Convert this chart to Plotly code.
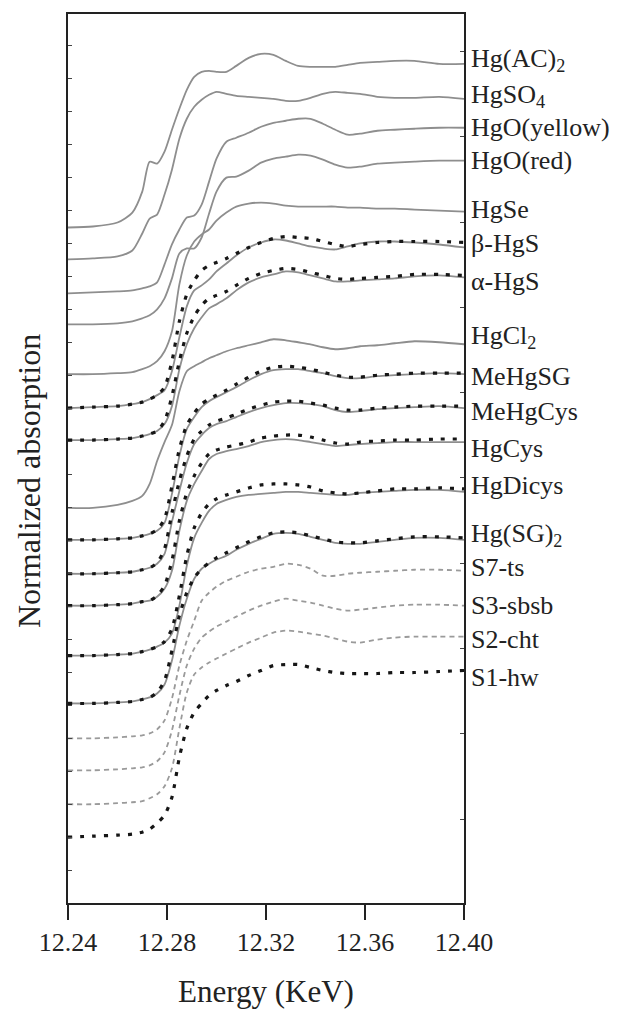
import plotly.graph_objects as go

# Energy grid (keV)
energy = [12.240, 12.250, 12.260, 12.266, 12.270, 12.273, 12.276, 12.279, 12.282, 12.285,
          12.288, 12.291, 12.294, 12.297, 12.300, 12.304, 12.308, 12.313, 12.318, 12.323,
          12.328, 12.333, 12.338, 12.343, 12.348, 12.353, 12.358, 12.365, 12.372, 12.380,
          12.390, 12.400]

# Offset normalized absorption (stacked spectra)
hg_ac2 = [6.77, 6.78, 6.82, 6.92, 7.13, 7.43, 7.41, 7.53, 7.75, 7.96, 8.15, 8.28, 8.33, 8.34, 8.33, 8.33, 8.39, 8.47, 8.51, 8.50, 8.44, 8.39, 8.38, 8.38, 8.38, 8.40, 8.42, 8.43, 8.44, 8.44, 8.41, 8.41]
hgso4 = [6.45, 6.46, 6.48, 6.54, 6.71, 6.86, 6.90, 7.10, 7.35, 7.66, 7.86, 7.98, 8.05, 8.10, 8.13, 8.11, 8.09, 8.08, 8.07, 8.06, 8.04, 8.04, 8.07, 8.11, 8.13, 8.12, 8.11, 8.08, 8.07, 8.07, 8.08, 8.06]
hgo_yellow = [6.11, 6.12, 6.13, 6.14, 6.16, 6.18, 6.22, 6.40, 6.60, 6.75, 6.87, 6.89, 7.00, 7.23, 7.46, 7.63, 7.67, 7.72, 7.78, 7.82, 7.84, 7.86, 7.86, 7.81, 7.75, 7.70, 7.71, 7.74, 7.75, 7.76, 7.77, 7.77]
hgo_red = [5.80, 5.80, 5.81, 5.83, 5.86, 5.89, 5.95, 6.06, 6.26, 6.51, 6.56, 6.56, 6.67, 6.91, 7.13, 7.27, 7.28, 7.34, 7.42, 7.46, 7.48, 7.50, 7.49, 7.45, 7.40, 7.37, 7.38, 7.41, 7.42, 7.43, 7.44, 7.44]
hgse = [5.30, 5.30, 5.31, 5.32, 5.35, 5.38, 5.43, 5.53, 5.73, 6.20, 6.49, 6.63, 6.70, 6.75, 6.84, 6.92, 6.98, 7.01, 7.02, 7.01, 6.99, 6.98, 6.98, 6.98, 6.98, 6.97, 6.97, 6.96, 6.96, 6.95, 6.94, 6.93]
beta_hgs = [4.96, 4.97, 4.98, 5.00, 5.02, 5.05, 5.09, 5.14, 5.33, 5.67, 5.98, 6.14, 6.19, 6.25, 6.33, 6.41, 6.49, 6.57, 6.62, 6.65, 6.64, 6.61, 6.58, 6.56, 6.55, 6.58, 6.61, 6.63, 6.63, 6.62, 6.60, 6.57]
alpha_hgs = [4.64, 4.64, 4.65, 4.66, 4.68, 4.70, 4.73, 4.80, 4.98, 5.35, 5.60, 5.76, 5.87, 5.96, 6.00, 6.06, 6.14, 6.22, 6.27, 6.30, 6.33, 6.32, 6.29, 6.26, 6.23, 6.23, 6.24, 6.25, 6.26, 6.28, 6.29, 6.27]
hgcl2 = [3.96, 3.96, 3.99, 4.03, 4.08, 4.20, 4.43, 4.62, 4.79, 5.13, 5.33, 5.38, 5.42, 5.46, 5.49, 5.53, 5.56, 5.59, 5.62, 5.65, 5.64, 5.62, 5.60, 5.57, 5.55, 5.56, 5.58, 5.59, 5.61, 5.63, 5.62, 5.60]
mehgsg = [3.64, 3.64, 3.65, 3.66, 3.68, 3.70, 3.73, 3.81, 4.10, 4.48, 4.75, 4.87, 4.97, 5.03, 5.07, 5.12, 5.17, 5.24, 5.30, 5.34, 5.35, 5.35, 5.33, 5.31, 5.28, 5.26, 5.26, 5.28, 5.29, 5.30, 5.31, 5.30]
mehgcys = [3.30, 3.30, 3.31, 3.32, 3.34, 3.36, 3.40, 3.50, 3.82, 4.13, 4.41, 4.60, 4.69, 4.76, 4.80, 4.83, 4.87, 4.92, 4.96, 4.99, 5.01, 5.01, 5.00, 4.98, 4.94, 4.92, 4.93, 4.95, 4.96, 4.97, 4.98, 4.96]
hgcys = [2.98, 2.98, 2.99, 3.00, 3.02, 3.03, 3.07, 3.15, 3.33, 3.73, 4.03, 4.20, 4.33, 4.45, 4.50, 4.53, 4.55, 4.58, 4.62, 4.64, 4.65, 4.64, 4.62, 4.60, 4.58, 4.59, 4.60, 4.61, 4.62, 4.62, 4.62, 4.62]
hgdicys = [2.48, 2.48, 2.49, 2.50, 2.52, 2.54, 2.57, 2.61, 2.70, 2.98, 3.38, 3.66, 3.81, 3.93, 4.00, 4.04, 4.07, 4.09, 4.10, 4.11, 4.12, 4.12, 4.11, 4.10, 4.09, 4.09, 4.11, 4.12, 4.13, 4.14, 4.14, 4.12]
hg_sg2 = [2.00, 2.00, 2.01, 2.02, 2.04, 2.06, 2.10, 2.19, 2.43, 2.78, 3.05, 3.25, 3.35, 3.40, 3.44, 3.48, 3.54, 3.60, 3.65, 3.70, 3.71, 3.70, 3.67, 3.64, 3.61, 3.60, 3.60, 3.62, 3.64, 3.66, 3.66, 3.64]
s7_ts = [1.65, 1.65, 1.66, 1.67, 1.68, 1.70, 1.74, 1.83, 2.05, 2.38, 2.63, 2.83, 3.03, 3.11, 3.17, 3.23, 3.27, 3.32, 3.35, 3.37, 3.40, 3.39, 3.35, 3.28, 3.28, 3.30, 3.31, 3.32, 3.33, 3.34, 3.34, 3.33]
s3_sbsb = [1.33, 1.33, 1.34, 1.35, 1.36, 1.38, 1.42, 1.51, 1.73, 2.08, 2.38, 2.55, 2.66, 2.72, 2.77, 2.82, 2.87, 2.93, 2.98, 3.02, 3.05, 3.03, 3.01, 2.98, 2.95, 2.93, 2.94, 2.96, 2.98, 2.99, 2.99, 2.98]
s2_cht = [0.99, 0.99, 1.00, 1.01, 1.02, 1.05, 1.09, 1.17, 1.35, 1.75, 2.11, 2.29, 2.36, 2.41, 2.45, 2.50, 2.55, 2.61, 2.66, 2.71, 2.73, 2.72, 2.70, 2.68, 2.65, 2.62, 2.61, 2.64, 2.66, 2.67, 2.67, 2.67]
s1_hw = [0.66, 0.67, 0.68, 0.69, 0.71, 0.74, 0.80, 0.88, 1.06, 1.46, 1.75, 1.91, 2.00, 2.08, 2.13, 2.18, 2.22, 2.28, 2.33, 2.38, 2.39, 2.39, 2.36, 2.33, 2.31, 2.30, 2.30, 2.30, 2.31, 2.31, 2.32, 2.33]

# Linear-combination fits (black dotted overlays)
beta_hgs_fit = [4.96, 4.97, 4.98, 5.00, 5.02, 5.05, 5.09, 5.17, 5.43, 5.83, 6.10, 6.24, 6.34, 6.39, 6.42, 6.46, 6.51, 6.57, 6.62, 6.66, 6.68, 6.67, 6.66, 6.63, 6.60, 6.58, 6.60, 6.62, 6.63, 6.63, 6.63, 6.62]
alpha_hgs_fit = [4.64, 4.64, 4.65, 4.66, 4.68, 4.70, 4.73, 4.83, 5.08, 5.43, 5.71, 5.88, 5.99, 6.06, 6.09, 6.13, 6.19, 6.26, 6.31, 6.34, 6.36, 6.35, 6.32, 6.29, 6.26, 6.25, 6.26, 6.27, 6.28, 6.30, 6.30, 6.29]
mehgsg_fit = [3.64, 3.64, 3.65, 3.66, 3.68, 3.70, 3.74, 3.85, 4.18, 4.55, 4.79, 4.91, 5.00, 5.05, 5.09, 5.14, 5.20, 5.27, 5.33, 5.37, 5.38, 5.37, 5.35, 5.32, 5.29, 5.27, 5.27, 5.29, 5.30, 5.31, 5.31, 5.31]
mehgcys_fit = [3.30, 3.30, 3.31, 3.32, 3.34, 3.36, 3.41, 3.55, 3.91, 4.23, 4.48, 4.65, 4.73, 4.79, 4.83, 4.86, 4.90, 4.95, 4.99, 5.02, 5.03, 5.03, 5.01, 4.99, 4.96, 4.94, 4.94, 4.96, 4.97, 4.98, 4.98, 4.98]
hgcys_fit = [2.98, 2.98, 2.99, 3.00, 3.02, 3.03, 3.08, 3.18, 3.43, 3.83, 4.11, 4.28, 4.41, 4.50, 4.54, 4.57, 4.59, 4.62, 4.66, 4.68, 4.69, 4.69, 4.67, 4.64, 4.61, 4.60, 4.62, 4.63, 4.64, 4.64, 4.65, 4.65]
hgdicys_fit = [2.48, 2.48, 2.49, 2.50, 2.52, 2.54, 2.57, 2.62, 2.75, 3.08, 3.48, 3.76, 3.91, 4.00, 4.05, 4.09, 4.12, 4.16, 4.19, 4.20, 4.20, 4.19, 4.17, 4.13, 4.11, 4.10, 4.11, 4.13, 4.15, 4.15, 4.16, 4.15]
hg_sg2_fit = [2.00, 2.00, 2.01, 2.02, 2.04, 2.06, 2.11, 2.23, 2.53, 2.88, 3.11, 3.26, 3.35, 3.41, 3.46, 3.51, 3.56, 3.62, 3.67, 3.71, 3.72, 3.71, 3.68, 3.65, 3.62, 3.61, 3.61, 3.63, 3.65, 3.67, 3.67, 3.66]

# Right-hand labels and their vertical positions
label_text = ["Hg(AC)<sub>2</sub>", "HgSO<sub>4</sub>", "HgO(yellow)", "HgO(red)", "HgSe",
              "\u03b2-HgS", "\u03b1-HgS", "HgCl<sub>2</sub>", "MeHgSG", "MeHgCys", "HgCys",
              "HgDicys", "Hg(SG)<sub>2</sub>", "S7-ts", "S3-sbsb", "S2-cht", "S1-hw"]
label_y = [8.45, 8.09, 7.77, 7.44, 6.95, 6.61, 6.23, 5.67, 5.28, 4.93, 4.56, 4.18, 3.69, 3.36, 2.98, 2.64, 2.26]

references = [hg_ac2, hgso4, hgo_yellow, hgo_red, hgse, beta_hgs, alpha_hgs, hgcl2,
              mehgsg, mehgcys, hgcys, hgdicys, hg_sg2]
samples = [s7_ts, s3_sbsb, s2_cht]
fits = [beta_hgs_fit, alpha_hgs_fit, mehgsg_fit, mehgcys_fit, hgcys_fit, hgdicys_fit,
        hg_sg2_fit, s1_hw]

for arr in references + samples + fits:
    assert len(arr) == len(energy)

FONT = "Liberation Serif, Times New Roman, serif"
fig = go.Figure()

def add(vals, color, width, dash):
    fig.add_trace(go.Scatter(
        x=energy, y=vals, mode="lines", showlegend=False, hoverinfo="skip",
        line=dict(color=color, width=width, dash=dash, shape="spline", smoothing=0.7)))

for v in references:
    add(v, "#8e8e8e", 1.8, "solid")
for v in samples:
    add(v, "#9a9a9a", 1.8, "5px,4px")
for v in fits:
    add(v, "#161616", 3.2, "4px,8px")

# invisible trace to carry the right-hand tick axis
fig.add_trace(go.Scatter(x=[12.24], y=[0], yaxis="y2", mode="lines", showlegend=False,
                         hoverinfo="skip", line=dict(width=0)))

for txt, yv in zip(label_text, label_y):
    fig.add_annotation(x=1, xref="paper", y=yv, yref="y", text=txt, showarrow=False,
                       xanchor="left", yanchor="middle", xshift=5,
                       font=dict(family=FONT, size=26, color="#222222"))

fig.add_annotation(x=0.5, xref="paper", y=0, yref="paper", text="Energy (KeV)",
                   showarrow=False, xanchor="center", yanchor="middle", yshift=-88,
                   font=dict(family=FONT, size=31, color="#222222"))
fig.add_annotation(x=0, xref="paper", y=0.4747, yref="paper", text="Normalized absorption",
                   showarrow=False, xanchor="center", yanchor="middle", xshift=-39,
                   textangle=-90, font=dict(family=FONT, size=32, color="#222222"))

# page body adds an 8px offset, so the figure is sized to fit the 620x1010 window
fig.update_layout(
    width=612, height=1002,
    margin=dict(l=60, r=156, t=4, b=107),
    paper_bgcolor="white", plot_bgcolor="white",
    xaxis=dict(range=[12.24, 12.40], tick0=12.24, dtick=0.04, tickformat=".2f",
               ticks="outside", ticklen=15, tickwidth=1.6, tickcolor="#222222",
               showline=True, linecolor="#222222", linewidth=1.8, mirror=True,
               showgrid=False, zeroline=False,
               tickfont=dict(family=FONT, size=26, color="#222222")),
    yaxis=dict(range=[0, 8.91], showticklabels=False, ticks="inside", ticklen=4,
               tickwidth=1.2, tickcolor="#444444", tick0=0.33, dtick=0.3307,
               showline=True, linecolor="#222222", linewidth=1.8, mirror=True,
               showgrid=False, zeroline=False),
    yaxis2=dict(range=[0, 8.91], overlaying="y", side="right", showticklabels=False,
                ticks="inside", ticklen=4, tickwidth=1.2, tickcolor="#444444",
                tick0=0.84, dtick=0.855, showline=False, showgrid=False, zeroline=False),
)

fig.write_html("out.html")
